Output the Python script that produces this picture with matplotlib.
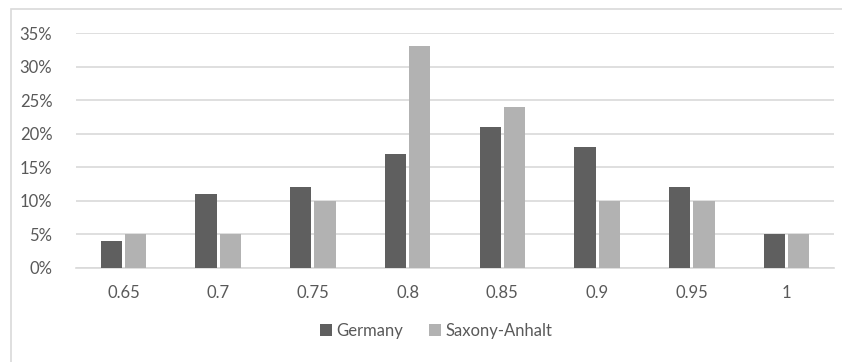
import matplotlib
matplotlib.use("Agg")
import matplotlib.pyplot as plt
from matplotlib.patches import Rectangle
from matplotlib.ticker import FuncFormatter
import numpy as np

categories = ["0.65", "0.7", "0.75", "0.8", "0.85", "0.9", "0.95", "1"]
germany = [4, 11, 12, 17, 21, 18, 12, 5]
saxony_anhalt = [5, 5, 10, 33, 24, 10, 10, 5]

W, H = 842, 362
fig = plt.figure(figsize=(W / 100, H / 100), dpi=100)
plt.rcParams['font.family'] = ['Lato', 'DejaVu Sans']

text_color = "#595959"
grid_color = "#d9d9d9"

# chart area outline (runs off the right and bottom edges)
fig.patches.append(Rectangle((11 / W, -0.05), 1.1, 1 - 9 / H + 0.05,
                             transform=fig.transFigure, fill=False,
                             edgecolor=grid_color, linewidth=1.2))

left, right, top, bottom = 76, 834, 33, 268
ax = fig.add_axes([left / W, 1 - bottom / H, (right - left) / W, (bottom - top) / H])

x = np.arange(len(categories))
bw = 0.225
gap = 0.03
ax.bar(x - (bw + gap) / 2, germany, bw, color="#5f5f5f", label="Germany", zorder=3)
ax.bar(x + (bw + gap) / 2, saxony_anhalt, bw, color="#b2b2b2", label="Saxony-Anhalt", zorder=3)

ax.set_xlim(-0.5, len(categories) - 0.5)
ax.set_ylim(0, 35)
ax.set_yticks(range(0, 36, 5))
ax.yaxis.set_major_formatter(FuncFormatter(lambda v, p: f"{int(v)}%"))
ax.set_xticks(x)
ax.set_xticklabels(categories)

ax.grid(axis="y", color=grid_color, linewidth=1.2, zorder=0)
for s in ["top", "right", "left"]:
    ax.spines[s].set_visible(False)
ax.spines["bottom"].set_color(grid_color)
ax.spines["bottom"].set_linewidth(1.2)
ax.tick_params(axis="both", length=0, colors=text_color, labelsize=12)
ax.tick_params(axis="x", pad=12)
ax.tick_params(axis="y", pad=17)

leg = fig.legend(loc="center", bbox_to_anchor=(0.518, 1 - 331 / H), ncol=2, frameon=False,
                 fontsize=12, handlelength=0.7, handleheight=0.7, handletextpad=0.25,
                 columnspacing=1.6, labelcolor=text_color)

fig.savefig("out.png", dpi=100)
